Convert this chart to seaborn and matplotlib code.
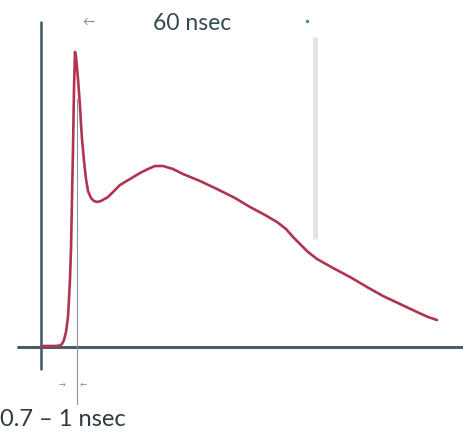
import seaborn as sns
import pandas as pd
import matplotlib.pyplot as plt

# pulse trace (x in px, y in px from top)
pulse_x = [41, 55, 60, 62, 64, 66, 68, 69, 70, 71, 72, 73, 74, 75, 76, 78, 80, 81, 82, 84, 86, 88, 91, 94,
           97, 101, 108, 114, 120, 130, 140, 148, 155, 163, 173, 183, 200, 217, 235, 250, 265, 277, 286,
           293, 300, 308, 317, 333, 350, 367, 383, 400, 417, 428, 437]
pulse_y = [347, 347, 346.5, 345, 341, 333, 318, 300, 280, 250, 200, 150, 90, 53, 58, 80, 107, 125, 140,
           162, 180, 192, 199, 202, 203, 202, 198, 192, 186, 180, 174, 170, 167, 167, 170, 175, 182, 190,
           199, 208, 216, 223, 230, 238, 245, 253, 260, 269, 278, 288, 297, 305, 313, 318, 321]

top_label = '60 nsec'
bottom_label = '0.7 – 1 nsec'

df = pd.DataFrame({'x': pulse_x, 'y': pulse_y})

sns.set_style('white')
plt.rcParams['font.family'] = ['Lato', 'DejaVu Sans']

fig = plt.figure(figsize=(4.64, 4.39), dpi=100)
ax = fig.add_axes([0, 0, 1, 1])

# faint scan line on the right
ax.plot([315, 315], [38, 240], color='#e4e4e4', lw=3.5, solid_capstyle='butt')

# axes
ax.plot([41, 41], [23, 370], color='#3d5866', lw=1.8)
ax.plot([18, 464], [348, 348], color='#4b5d66', lw=2.2)

# thin marker line at rise
ax.plot([77.5, 77.5], [100, 405], color='#8a95a0', lw=0.8)

sns.lineplot(data=df, x='x', y='y', sort=False, color='#b0344f', lw=1.9, ax=ax)
ax.set_xlim(0, 464)
ax.set_ylim(439, 0)
ax.axis('off')

ax.text(192, 23, top_label, fontsize=16.5, color='#34494e', ha='center', va='center')
ax.text(89, 22, '←', fontsize=9, color='#888888', ha='center', va='center')
ax.plot(307, 22, marker='.', color='#4a8a95', ms=3)
ax.text(62, 385, '→', fontsize=5, color='#777777', ha='center', va='center')
ax.text(83, 385, '←', fontsize=5, color='#777777', ha='center', va='center')
ax.text(0, 420, bottom_label, fontsize=17, color='#2f3a40', ha='left', va='center')

fig.savefig('out.png', dpi=100)
